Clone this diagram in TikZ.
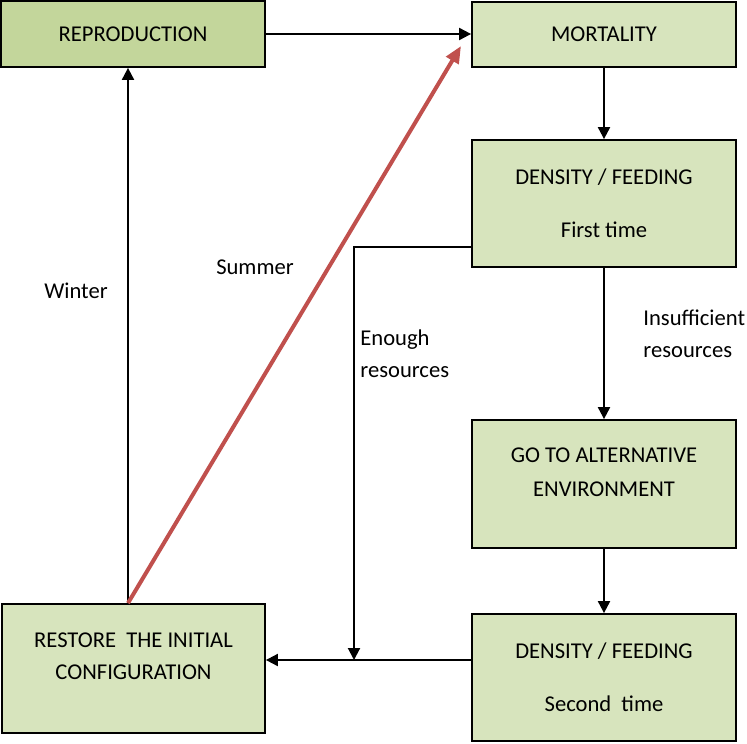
\documentclass[tikz,border=0pt]{standalone}
\usepackage{fontspec}
\setmainfont{Carlito}
\usepackage{xcolor}
\usetikzlibrary{arrows.meta}

\definecolor{boxgreen}{HTML}{D7E4BD}
\definecolor{darkgreen}{HTML}{C3D69B}
\definecolor{summerred}{HTML}{C0504D}

\tikzset{
	stage/.style={draw=black, line width=0.9pt, fill=boxgreen, minimum width=132pt,
		align=center, font=\fontsize{11.3}{16}\selectfont},
	boxtext/.style={align=center, font=\fontsize{11.3}{16}\selectfont},
	note/.style={align=left, inner sep=0pt, font=\fontsize{11.3}{16}\selectfont},
	flow/.style={line width=1pt, -{Triangle[length=6pt,width=6pt]}},
	summer/.style={line width=2pt, summerred, -{Triangle[length=8.5pt,width=7pt]}}
}

\begin{document}
\begin{tikzpicture}[x=0.5pt,y=-0.5pt]
		\useasboundingbox (0,0) rectangle (747,743);

		\node[stage, fill=darkgreen, minimum height=33pt](repro) at (133,34){REPRODUCTION};
		\node[stage, minimum height=32.5pt](mort) at (604,34.5){MORTALITY};

		\node[stage, minimum height=63.5pt](dens1) at (604,203.5){DENSITY / FEEDING\\[10.5pt]First time};
		\node[stage, minimum height=64pt,
			label={[boxtext, name=altlabel, yshift=6pt]center:{GO TO ALTERNATIVE\\[1pt]ENVIRONMENT}}](alt) at (604,484){};
		\node[stage, minimum height=63.5pt](dens2) at (604,677.5){DENSITY / FEEDING\\[10.5pt]Second\ \ time};

		\node[stage, minimum width=131.5pt, minimum height=64.5pt,
			label={[boxtext, name=restorelabel, yshift=6.25pt]center:{RESTORE\ \ THE INITIAL\\CONFIGURATION}}](restore) at (133.5,668.5){};

		\node[note](winter) at (76,291){Winter};
		\node[note](summerlabel) at (255,267){Summer};
		\node[note, anchor=west](enough) at (360,354){Enough\\resources};
		\node[note, anchor=west](lack) at (643,334){Insufficient\\resources};

		\coordinate(split) at (354,247);
		\coordinate(merge) at (354,660);
		\coordinate(stem) at (128,604);
		\coordinate(tip) at (461,46);

		\draw[flow] (repro.east) -- (repro.east -| mort.west);
		\draw[flow] (mort) -- (dens1);
		\draw[flow] (dens1) -- (alt);
		\draw[flow] (alt) -- (dens2);
		\draw[flow] (dens1.west |- split) -- (split) -- (merge);
		\draw[flow] (dens2.west |- merge) -- (restore.east |- merge);
		\draw[flow] (restore.north -| stem) -- (repro.south -| stem);
		\draw[summer] (restore.north -| stem) -- (tip);
	\end{tikzpicture}
\end{document}
